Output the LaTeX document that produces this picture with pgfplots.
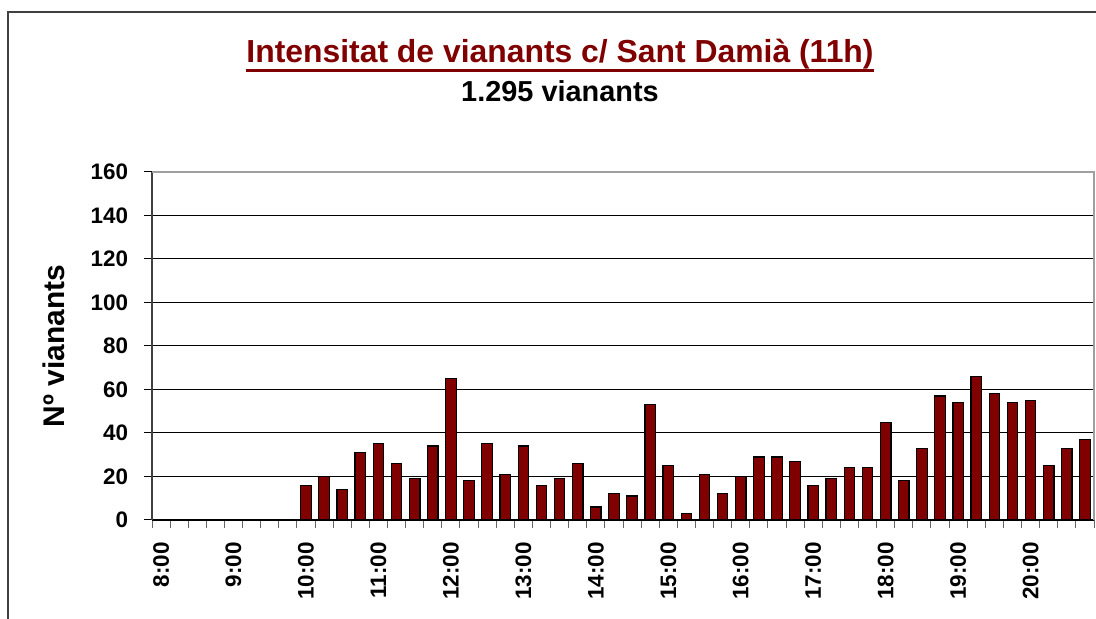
\documentclass[border=0pt]{standalone}
\usepackage{fontspec}
\setmainfont{Liberation Sans}
\usepackage{pgfplots}
\pgfplotsset{compat=1.18}
\definecolor{barred}{HTML}{800000}
\definecolor{titlered}{HTML}{800000}
\begin{document}
\begin{tikzpicture}[x=1bp,y=1bp]
\useasboundingbox (0,0) rectangle (1096,619);
\draw[line width=2bp, black!75] (7.5,-6) -- (7.5,607) -- (1100,607);
\node[inner sep=0, anchor=base, font=\fontsize{32}{38}\selectfont\bfseries, text=titlered] (t) at (560,556) {Intensitat de vianants c/ Sant Damià (11h)};
\draw[titlered, line width=3.5bp] ([yshift=-7.5bp]t.base west) -- ([yshift=-7.5bp]t.base east);
\node[inner sep=0, anchor=base, font=\fontsize{29}{34}\selectfont\bfseries] at (560,517) {1.295 vianants};
\begin{axis}[
  at={(152bp,99bp)}, anchor=south west,
  width=942bp, height=348bp, scale only axis,
  xmin=0, xmax=52, ymin=0, ymax=160,
  clip=false,
  axis lines=left,
  every outer x axis line/.append style={-},
  every outer y axis line/.append style={-},
  x axis line style={black, line width=1.3bp, -},
  y axis line style={black!75, line width=2bp, -},
  tick align=outside,
  major tick length=8bp,
  minor tick length=8bp,
  xtick={0.5,4.5,...,48.5},
  xticklabels={8:00,9:00,10:00,11:00,12:00,13:00,14:00,15:00,16:00,17:00,18:00,19:00,20:00},
  minor xtick={0,1,...,52},
  every major x tick/.append style={draw=none},
  every minor x tick/.append style={gray!80!black, line width=1bp},
  ytick={0,20,...,160},
  every major y tick/.append style={black, line width=1bp},
  ymajorgrids,
  major grid style={black, line width=1bp},
  /pgf/number format/assume math mode=true,
  ticklabel style={font=\fontsize{22.5}{27}\selectfont\bfseries},
  yticklabel style={xshift=-12.5bp},
  xticklabel style={rotate=90, anchor=east, inner xsep=14bp},
  ylabel={Nº vianants},
  ylabel style={font=\fontsize{30}{36}\selectfont\bfseries, at={(axis description cs:-0.104,0.5)}, anchor=center},
]
\addplot[ybar, bar width=10.5bp, fill=barred, draw=black, line width=1.2bp] coordinates {
(8.5,16) (9.5,20) (10.5,14) (11.5,31) (12.5,35) (13.5,26) (14.5,19) (15.5,34)
(16.5,65) (17.5,18) (18.5,35) (19.5,21) (20.5,34) (21.5,16) (22.5,19) (23.5,26)
(24.5,6) (25.5,12) (26.5,11) (27.5,53) (28.5,25) (29.5,3) (30.5,21) (31.5,12)
(32.5,20) (33.5,29) (34.5,29) (35.5,27) (36.5,16) (37.5,19) (38.5,24) (39.5,24)
(40.5,45) (41.5,18) (42.5,33) (43.5,57) (44.5,54) (45.5,66) (46.5,58) (47.5,54)
(48.5,55) (49.5,25) (50.5,33) (51.5,37)
};
\draw[gray!75, line width=2bp] (rel axis cs:0,1) -- (rel axis cs:1,1) -- (rel axis cs:1,0);
\end{axis}
\end{tikzpicture}
\end{document}
